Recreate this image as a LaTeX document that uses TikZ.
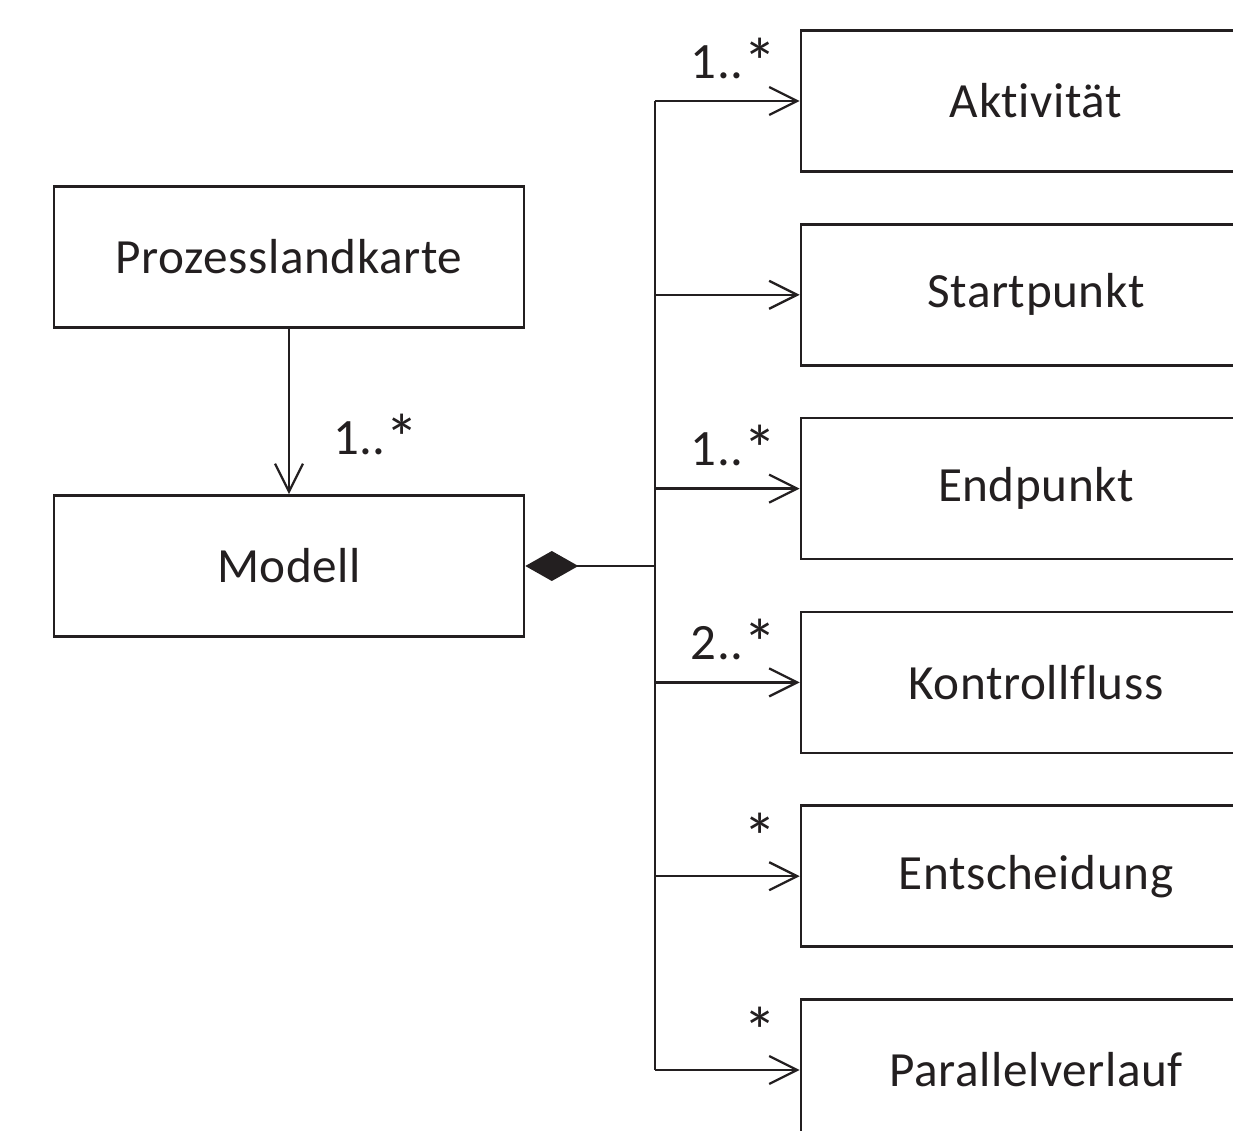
\documentclass[tikz,border=0pt]{standalone}
\usepackage{fontspec}
\setmainfont{Carlito}[Ligatures=NoCommon, LetterSpace=1.2]
\usetikzlibrary{arrows.meta, positioning}

\definecolor{ink}{HTML}{231F20}
% a larger multiplicity star
\newcommand{\mstar}{\raisebox{-4pt}{\fontsize{38}{38}\selectfont *}}

\begin{document}
\begin{tikzpicture}[node distance=3.876cm, on grid, ink,
    box/.style={draw=ink, line width=1.5pt, minimum width=9.4cm, minimum height=2.82cm,
                font=\fontsize{28}{34}\selectfont, text=ink},
    conn/.style={line width=1.3pt, -{Straight Barb[length=0.56cm, width=0.56cm]}},
    mult/.style={pos=1, anchor=base east, xshift=-0.32cm, yshift=0.46cm,
                 font=\fontsize{29}{34}\selectfont, text=ink}]
    \clip (0,0) rectangle (24.66,-22.6);
    \useasboundingbox (0,0) rectangle (24.66,-22.6);

    % left column
    \node[box] (modell) at (5.78,-11.32) {Modell};
    \node[box] (karte) [above=6.18cm of modell] {Prozesslandkarte};

    % right column, cut by the page edge
    \node[box] (akt) at (20.72,-2.02) {Aktivität};
    \node[box] (start) [below=of akt] {Startpunkt};
    \node[box] (end) [below=of start] {Endpunkt};
    \node[box] (fluss) [below=of end] {Kontrollfluss};
    \node[box] (ent) [below=of fluss] {Entscheidung};
    \node[box] (par) [below=of ent] {Parallelverlauf};

    \coordinate (bus) at (13.1,-11.32);

    \draw[conn] (karte) -- (modell)
        node[pos=1, anchor=base west, xshift=0.74cm, yshift=0.8cm,
             font=\fontsize{29}{34}\selectfont] {1..\mstar};

    % composition and the bus line
    \draw[line width=1.3pt, {Diamond[length=1.06cm, width=0.6cm]}-] (modell.east) -- (bus);
    \draw[line width=1.3pt] (akt.west -| bus) -- (par.west -| bus);

    \path
    (akt.west -| bus)   edge[conn] node[mult] {1..\mstar} (akt.west)
    (start.west -| bus) edge[conn] (start.west)
    (end.west -| bus)   edge[conn] node[mult] {1..\mstar} (end.west)
    (fluss.west -| bus) edge[conn] node[mult] {2..\mstar} (fluss.west)
    (ent.west -| bus)   edge[conn] node[mult] {\mstar} (ent.west)
    (par.west -| bus)   edge[conn] node[mult] {\mstar} (par.west);
\end{tikzpicture}
\end{document}
